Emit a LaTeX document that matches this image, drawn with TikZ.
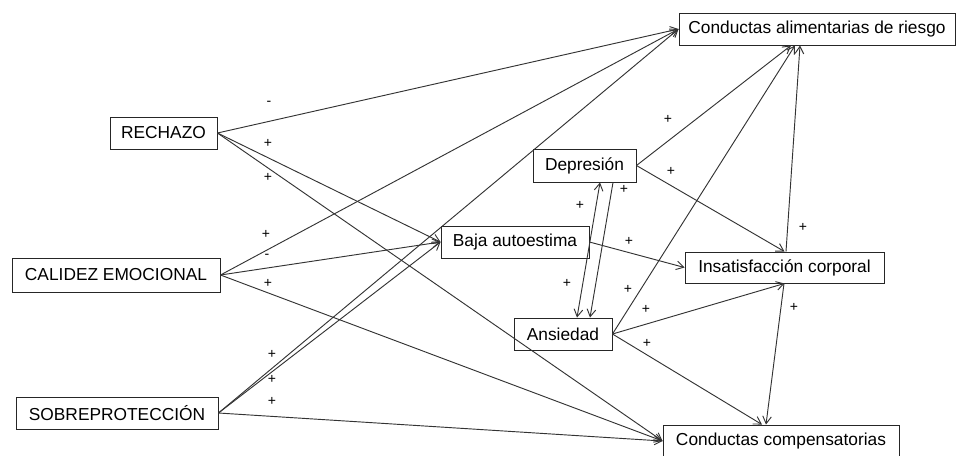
\documentclass[tikz,border=0pt]{standalone}
\usepackage{fontspec}
\setmainfont{Liberation Sans}
\usetikzlibrary{arrows.meta}
\begin{document}
\begin{tikzpicture}[x=0.75pt,y=-0.75pt,
  box/.style={draw=black!85, line width=0.7pt, inner sep=0pt, font=\fontsize{13}{15}\selectfont},
  conn/.style={draw=black!80, line width=0.7pt, -{Straight Barb[length=5.5pt,width=6.5pt]}},
  biconn/.style={draw=black!80, line width=0.7pt, {Straight Barb[length=5.5pt,width=6.5pt]}-{Straight Barb[length=5.5pt,width=6.5pt]}},
  sg/.style={font=\fontsize{10.5}{12}\selectfont, inner sep=0pt}]
\useasboundingbox (0,0) rectangle (957,455);
% boxes
\node[box, minimum width=107*0.75pt, minimum height=32*0.75pt] (rech) at (163.5,133) {RECHAZO};
\node[box, minimum width=208*0.75pt, minimum height=34*0.75pt] (cal) at (116,275) {CALIDEZ EMOCIONAL};
\node[box, minimum width=202*0.75pt, minimum height=32*0.75pt] (sob) at (117,413) {SOBREPROTECCIÓN};
\node[box, minimum width=148*0.75pt, minimum height=32*0.75pt] (baja) at (515,242) {Baja autoestima};
\node[box, minimum width=276*0.75pt, minimum height=32*0.75pt] (car) at (817,29) {Conductas alimentarias de riesgo};
\node[box, minimum width=103*0.75pt, minimum height=33*0.75pt] (dep) at (584.5,165.5) {Depresión};
\node[box, minimum width=199*0.75pt, minimum height=31*0.75pt] (ins) at (784.5,267.5) {Insatisfacción corporal};
\node[box, minimum width=98*0.75pt, minimum height=32*0.75pt] (ans) at (563,334) {Ansiedad};
\node[box, minimum width=236*0.75pt, minimum height=32*0.75pt] (cc) at (781,441) {Conductas compensatorias};
% connectors from left
\draw[conn] (rech.east) -- (car.west);
\draw[conn] (rech.east) -- (baja.west);
\draw[conn] (rech.east) -- (cc.west);
\draw[conn] (cal.east) -- (car.west);
\draw[conn] (cal.east) -- (baja.west);
\draw[conn] (cal.east) -- (cc.west);
\draw[conn] (sob.east) -- (car.west);
\draw[conn] (sob.east) -- (baja.west);
\draw[conn] (sob.east) -- (cc.west);
% middle
\draw[conn] (baja.east) -- (ins.west);
\draw[conn] (dep.east) -- ([xshift=-26*0.75pt]car.south);
\draw[conn] (dep.east) -- (ins.north);
\draw[biconn] ([xshift=15.5*0.75pt]dep.south) -- ([xshift=14*0.75pt]ans.north);
\draw[conn] ([xshift=28.5*0.75pt]dep.south) -- ([xshift=27*0.75pt]ans.north);
\draw[conn] (ans.east) -- ([xshift=-22*0.75pt]car.south);
\draw[conn] (ans.east) -- (ins.south);
\draw[conn] (ans.east) -- ([xshift=-19*0.75pt]cc.north);
\draw[conn] ([xshift=1.5*0.75pt]ins.north) -- ([xshift=-17*0.75pt]car.south);
\draw[conn] ([xshift=-0.5*0.75pt]ins.south) -- ([xshift=-15*0.75pt]cc.north);
% signs
\node[sg] (s1) at (269,103) {-};
\node[sg] (s2) at (268,143) {+};
\node[sg] (s3) at (268,177) {+};
\node[sg] (s4) at (266,234) {+};
\node[sg] (s5) at (267,256) {-};
\node[sg] (s6) at (268,283) {+};
\node[sg] (s7) at (272,354) {+};
\node[sg] (s8) at (272,379) {+};
\node[sg] (s9) at (272,401) {+};
\node[sg] (s10) at (668,119) {+};
\node[sg] (s11) at (671,171) {+};
\node[sg] (s12) at (624,189) {+};
\node[sg] (s13) at (580,205) {+};
\node[sg] (s14) at (803,227) {+};
\node[sg] (s15) at (629,241) {+};
\node[sg] (s16) at (567,283) {+};
\node[sg] (s17) at (628,289) {+};
\node[sg] (s18) at (646,309) {+};
\node[sg] (s19) at (647,343) {+};
\node[sg] (s20) at (794,307) {+};
\end{tikzpicture}
\end{document}
